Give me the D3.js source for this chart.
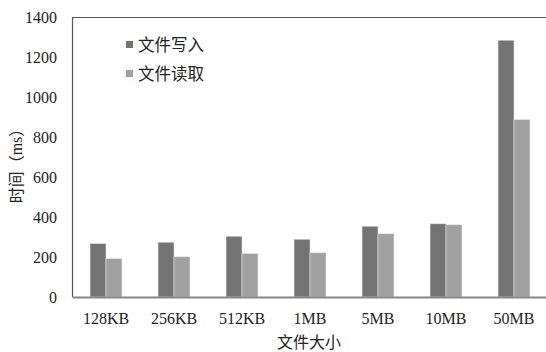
<!DOCTYPE html>
<html>
<head>
<meta charset="utf-8">
<script src="https://cdn.jsdelivr.net/npm/d3@7"></script>
<style>
  body { margin: 0; background: #fff; }
  svg { display: block; }
</style>
</head>
<body>
<div id="chart"></div>
<script>
// data
const sizes = ['128KB', '256KB', '512KB', '1MB', '5MB', '10MB', '50MB'];
const seriesNames = ['文件写入', '文件读取'];
const writeTimes = [267, 274, 304, 289, 354, 366, 1284];
const readTimes = [192, 201, 217, 221, 316, 361, 887];
const yTicks = [0, 200, 400, 600, 800, 1000, 1200, 1400];
const colors = ['#737373', '#a0a0a0'];

const W = 546, H = 352;
const margin = { top: 17, right: -2, bottom: 55, left: 72 };
const innerW = W - margin.left - margin.right,
      innerH = H - margin.top - margin.bottom;

const serif = '"Liberation Serif", "Times New Roman", serif';
const cjk = '"Noto Sans CJK SC", sans-serif';

const svg = d3.select('#chart').append('svg')
    .attr('width', W)
    .attr('height', H);

const g = svg.append('g')
    .attr('transform', `translate(${margin.left},${margin.top})`);

const x0 = d3.scaleBand()
    .domain(sizes)
    .range([0, innerW])
    .paddingInner(0.53)
    .paddingOuter(0.265);

const x1 = d3.scaleBand()
    .domain(seriesNames)
    .range([0, x0.bandwidth()]);

const y = d3.scaleLinear()
    .domain([0, 1400])
    .range([innerH, 0]);

// y axis labels
const yAxis = g.append('g')
    .call(d3.axisLeft(y).tickValues(yTicks).tickFormat(d3.format('d')).tickSize(0).tickPadding(15));
yAxis.select('.domain').remove();
yAxis.attr('font-family', serif).attr('font-size', 16);
yAxis.selectAll('text').attr('fill', '#222');

// bars
const rows = sizes.map((s, i) => ({ size: s, vals: [writeTimes[i], readTimes[i]] }));
g.selectAll('.grp')
    .data(rows)
    .enter().append('g')
      .attr('class', 'grp')
      .attr('transform', d => `translate(${x0(d.size)},0)`)
    .selectAll('rect')
    .data(d => d.vals.map((v, k) => ({ name: seriesNames[k], v, k })))
    .enter().append('rect')
      .attr('x', d => x1(d.name))
      .attr('y', d => y(d.v))
      .attr('width', x1.bandwidth())
      .attr('height', d => innerH - y(d.v))
      .attr('fill', d => colors[d.k])
      .attr('stroke', '#e4e4e4')
      .attr('stroke-width', 0.6);

// frame: left and top lines
g.append('line')
    .attr('x1', 0.5).attr('x2', 0.5)
    .attr('y1', 0.5).attr('y2', innerH)
    .attr('stroke', '#555').attr('stroke-width', 1.2);
g.append('line')
    .attr('x1', 0).attr('x2', innerW)
    .attr('y1', 0.5).attr('y2', 0.5)
    .attr('stroke', '#555').attr('stroke-width', 1.2);

// x axis
const xAxis = g.append('g')
    .attr('transform', `translate(0,${innerH})`)
    .call(d3.axisBottom(x0).tickSize(0).tickPadding(16));
xAxis.attr('font-family', serif).attr('font-size', 16);
xAxis.selectAll('text').attr('fill', '#222');
xAxis.select('.domain')
    .attr('stroke', '#858585')
    .attr('stroke-width', 2);

// axis titles
svg.append('text')
    .attr('x', margin.left + innerW / 2 - 1)
    .attr('y', 348)
    .attr('text-anchor', 'middle')
    .style('font-family', cjk)
    .style('font-size', '16px')
    .style('fill', '#222')
    .text('文件大小');

const yTitle = svg.append('text')
    .attr('transform', 'translate(22,162) rotate(-90)')
    .attr('text-anchor', 'middle')
    .style('font-family', cjk)
    .style('font-size', '16px')
    .style('fill', '#222');
yTitle.append('tspan').text('时间（');
yTitle.append('tspan').style('font-family', serif).text('ms');
yTitle.append('tspan').text('）');

// legend
const legend = svg.append('g')
    .attr('transform', 'translate(126,40)');
seriesNames.forEach((name, i) => {
    const row = legend.append('g').attr('transform', `translate(0,${i * 29})`);
    row.append('rect')
        .attr('width', 7).attr('height', 7)
        .attr('y', 1)
        .attr('fill', colors[i]);
    row.append('text')
        .attr('x', 12)
        .attr('y', 5)
        .attr('dy', '0.35em')
        .style('font-family', cjk)
        .style('font-size', '16.5px')
        .style('fill', '#222')
        .text(name);
});
</script>
</body>
</html>
